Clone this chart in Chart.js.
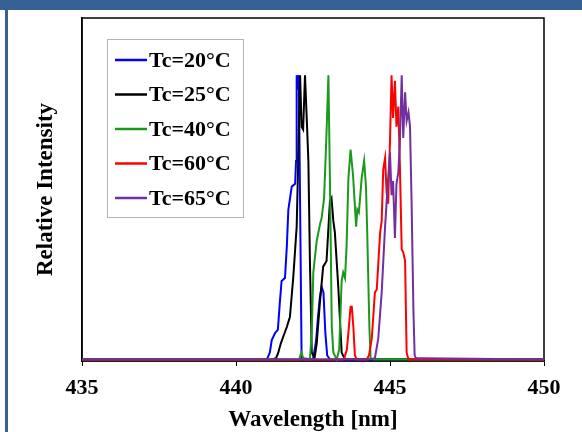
<!DOCTYPE html>
<html>
<head>
<meta charset="utf-8">
<script src="https://cdn.jsdelivr.net/npm/chart.js@4.4.1/dist/chart.umd.min.js"></script>
<style>
  html, body { margin: 0; padding: 0; background: #fff; }
  #wrap { position: relative; width: 582px; height: 432px; overflow: hidden; }
  #topBar { position: absolute; left: 0; top: 0; width: 582px; height: 10px; background: #366293; }
  #leftBar { position: absolute; left: 5px; top: 0; width: 3px; height: 432px; background: #366293; }
  canvas { position: absolute; left: 0; top: 0; }
</style>
</head>
<body>
<div id="wrap">
  <canvas id="spectra" width="582" height="432"></canvas>
  <div id="topBar"></div>
  <div id="leftBar"></div>
</div>
<script>
// Series labels and colours
const seriesLabels = ['Tc=20°C', 'Tc=25°C', 'Tc=40°C', 'Tc=60°C', 'Tc=65°C'];
const seriesColors = ['#0000ff', '#000000', '#1a9a1a', '#ff0000', '#7030a0'];

// Wavelength (nm) / relative intensity
const wl20  = [435, 441.0, 441.1, 441.16, 441.27, 441.36, 441.42, 441.48, 441.59, 441.65, 441.70, 441.81, 441.92, 441.95, 441.97, 442.0, 442.04, 442.09, 442.13, 442.5, 442.6, 442.66, 442.72, 442.78, 442.84, 442.9, 442.96, 443.05, 450];
const int20 = [0.005, 0.005, 0.03, 0.073, 0.098, 0.11, 0.2, 0.28, 0.29, 0.4, 0.53, 0.61, 0.62, 0.7, 1.0, 0.95, 1.0, 0.45, 0.01, 0.005, 0.07, 0.15, 0.22, 0.26, 0.24, 0.1, 0.02, 0.005, 0.005];

const wl25  = [435, 441.16, 441.3, 441.37, 441.45, 441.53, 441.65, 441.75, 441.86, 441.97, 442.02, 442.08, 442.13, 442.18, 442.24, 442.30, 442.35, 442.40, 442.46, 442.55, 442.62, 442.72, 442.83, 442.94, 443.05, 443.10, 443.16, 443.21, 443.32, 443.43, 443.54, 450];
const int25 = [0.005, 0.005, 0.01, 0.028, 0.06, 0.084, 0.119, 0.154, 0.294, 0.47, 0.70, 1.0, 0.82, 0.81, 1.0, 0.84, 0.70, 0.35, 0.03, 0.01, 0.06, 0.2, 0.33, 0.35, 0.56, 0.57, 0.49, 0.45, 0.26, 0.03, 0.005, 0.005];

const wl40  = [435, 442.05, 442.12, 442.2, 442.4, 442.46, 442.51, 442.62, 442.73, 442.78, 442.86, 442.94, 443.00, 443.05, 443.11, 443.16, 443.27, 443.35, 443.43, 443.48, 443.54, 443.59, 443.65, 443.72, 443.80, 443.90, 443.94, 443.99, 444.08, 444.16, 444.22, 444.26, 444.33, 444.37, 444.45, 450];
const int40 = [0.005, 0.005, 0.03, 0.005, 0.005, 0.1, 0.31, 0.42, 0.48, 0.50, 0.57, 0.80, 1.0, 0.63, 0.12, 0.03, 0.005, 0.04, 0.28, 0.31, 0.29, 0.40, 0.64, 0.74, 0.65, 0.47, 0.53, 0.52, 0.64, 0.70, 0.61, 0.45, 0.12, 0.01, 0.005, 0.005];

const wl60  = [435, 443.5, 443.6, 443.65, 443.72, 443.76, 443.81, 443.86, 443.92, 444.24, 444.32, 444.41, 444.51, 444.57, 444.68, 444.73, 444.78, 444.84, 444.89, 444.94, 445.00, 445.05, 445.10, 445.16, 445.21, 445.27, 445.32, 445.38, 445.43, 445.49, 445.54, 445.60, 450];
const int60 = [0.005, 0.005, 0.04, 0.10, 0.19, 0.19, 0.12, 0.02, 0.005, 0.005, 0.02, 0.08, 0.24, 0.25, 0.45, 0.49, 0.67, 0.71, 0.59, 0.55, 0.77, 1.0, 0.85, 0.98, 0.82, 0.89, 0.69, 0.39, 0.38, 0.35, 0.03, 0.005, 0.005];

const wl65  = [435, 444.35, 444.51, 444.62, 444.73, 444.84, 444.94, 445.00, 445.05, 445.10, 445.16, 445.21, 445.27, 445.32, 445.38, 445.43, 445.49, 445.54, 445.60, 445.65, 445.70, 445.76, 445.80, 445.84, 446.1, 450];
const int65 = [0.005, 0.005, 0.01, 0.08, 0.24, 0.47, 0.64, 0.73, 0.58, 0.63, 0.43, 0.62, 0.66, 0.76, 1.0, 0.78, 0.94, 0.84, 0.87, 0.82, 0.56, 0.18, 0.02, 0.01, 0.01, 0.005];

const xTicks = [435, 440, 445, 450];

const allWl = [wl20, wl25, wl40, wl60, wl65];
const allInt = [int20, int25, int40, int60, int65];

const serif = "'Liberation Serif', 'Times New Roman', serif";

// frame round the plot area (top and right sides)
const framePlugin = {
    id: 'frame',
    beforeDatasetsDraw(chart) {
        const { ctx, chartArea: a } = chart;
        ctx.save();
        ctx.strokeStyle = '#000';
        ctx.lineWidth = 1.5;
        ctx.strokeRect(a.left, a.top, a.right - a.left, a.bottom - a.top);
        ctx.restore();
    }
};

// boxed legend inside the plot, upper left
const legendPlugin = {
    id: 'boxLegend',
    afterDraw(chart) {
        const ctx = chart.ctx;
        const bx = 107.5, by = 39.5, bw = 136, bh = 178;
        ctx.save();
        ctx.fillStyle = '#fff';
        ctx.fillRect(bx, by, bw, bh);
        ctx.strokeStyle = '#b4b4b4';
        ctx.lineWidth = 1;
        ctx.strokeRect(bx, by, bw, bh);
        ctx.font = "bold 22px " + serif;
        ctx.textBaseline = 'middle';
        chart.data.datasets.forEach((ds, i) => {
            const y = 60 + i * 34.5;
            ctx.strokeStyle = ds.borderColor;
            ctx.lineWidth = 2.5;
            ctx.beginPath();
            ctx.moveTo(115, y);
            ctx.lineTo(147, y);
            ctx.stroke();
            ctx.fillStyle = '#000';
            ctx.fillText(ds.label, 149, y + 1);
        });
        ctx.restore();
    }
};

// later series are drawn on top (Tc=65°C last)
const datasets = seriesLabels.map((label, i) => ({
    label: label,
    data: allWl[i].map((w, j) => ({ x: w, y: allInt[i][j] })),
    borderColor: seriesColors[i],
    backgroundColor: seriesColors[i],
    borderWidth: 2,
    pointRadius: 0,
    tension: 0,
    clip: false,
    order: seriesLabels.length - i
}));

new Chart(document.getElementById('spectra'), {
    type: 'line',
    data: { datasets: datasets },
    options: {
        responsive: false,
        animation: false,
        devicePixelRatio: 1,
        layout: { padding: { top: 18, right: 38, left: 0, bottom: 0 } },
        plugins: {
            legend: { display: false },
            tooltip: { enabled: false }
        },
        scales: {
            x: {
                type: 'linear',
                min: 435,
                max: 450,
                afterBuildTicks: (s) => { s.ticks = xTicks.map(v => ({ value: v })); },
                afterFit: (s) => { s.height = 71; },
                ticks: {
                    color: '#000',
                    padding: 11,
                    font: { family: serif, size: 22, weight: 'bold', lineHeight: 1 },
                    maxRotation: 0
                },
                grid: { drawOnChartArea: false, drawTicks: true, tickLength: 5, color: '#000', lineWidth: 1 },
                border: { display: true, color: '#000', width: 1.5 },
                title: {
                    display: true,
                    text: 'Wavelength [nm]',
                    color: '#000',
                    padding: { top: 0, bottom: 0 },
                    font: { family: serif, size: 23, weight: 'bold', lineHeight: 1 }
                }
            },
            y: {
                min: 0,
                max: 1.2,
                afterFit: (s) => { s.width = 82; },
                ticks: { display: false },
                grid: { display: false, drawTicks: false },
                border: { display: true, color: '#000', width: 1.5 },
                title: {
                    display: true,
                    text: 'Relative Intensity',
                    color: '#000',
                    padding: { top: 35, bottom: 0 },
                    font: { family: serif, size: 23, weight: 'bold', lineHeight: 1 }
                }
            }
        }
    },
    plugins: [framePlugin, legendPlugin]
});
</script>
</body>
</html>
